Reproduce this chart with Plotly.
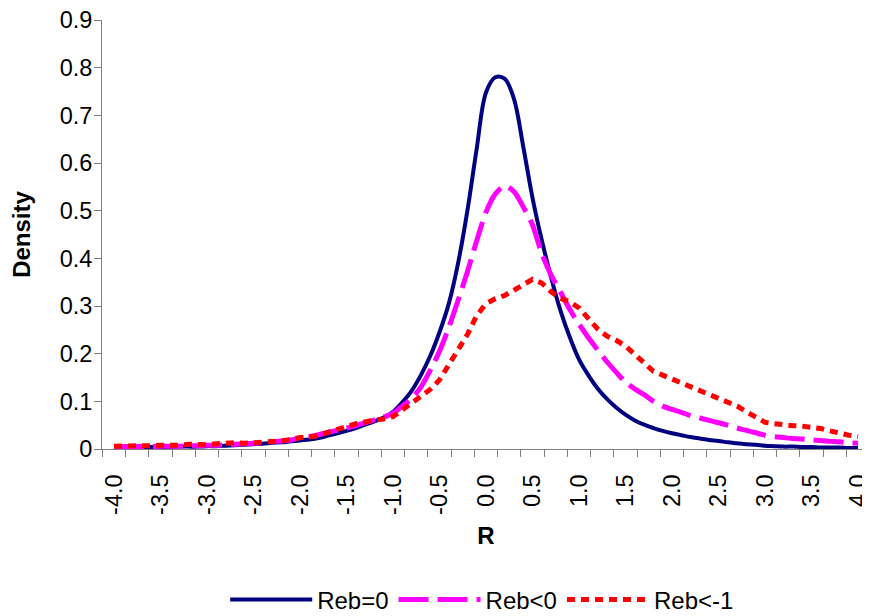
import plotly.graph_objects as go

# R values (x categories)
r_values = [round(-4.0 + 0.1 * i, 1) for i in range(81)]

reb_eq0 = [
    0.003, 0.003, 0.003, 0.003, 0.004, 0.004, 0.004, 0.005, 0.005, 0.005,  # -4.0 .. -3.1
    0.006, 0.006, 0.007, 0.008, 0.009, 0.010, 0.011, 0.013, 0.014, 0.016,  # -3.0 .. -2.1
    0.018, 0.020, 0.023, 0.028, 0.033, 0.038, 0.044, 0.051, 0.058, 0.066,  # -2.0 .. -1.1
    0.078, 0.098, 0.122, 0.155, 0.195, 0.245, 0.305, 0.390, 0.500, 0.630,  # -1.0 .. -0.1
    0.748, 0.780, 0.777, 0.735, 0.635, 0.527, 0.438, 0.360, 0.291, 0.235,  #  0.0 .. 0.9
    0.188, 0.155, 0.127, 0.105, 0.087, 0.072, 0.060, 0.051, 0.044, 0.038,  #  1.0 .. 1.9
    0.033, 0.029, 0.025, 0.022, 0.019, 0.017, 0.014, 0.012, 0.010, 0.009,  #  2.0 .. 2.9
    0.007, 0.006, 0.005, 0.005, 0.004, 0.004, 0.003, 0.003, 0.003, 0.002,  #  3.0 .. 3.9
    0.002,                                                                 #  4.0
]

reb_lt0 = [
    0.005, 0.005, 0.005, 0.005, 0.005, 0.006, 0.006, 0.006, 0.007, 0.007,
    0.008, 0.008, 0.009, 0.010, 0.011, 0.012, 0.013, 0.015, 0.017, 0.019,
    0.023, 0.026, 0.030, 0.035, 0.039, 0.044, 0.049, 0.055, 0.061, 0.067,
    0.075, 0.090, 0.106, 0.130, 0.165, 0.205, 0.255, 0.312, 0.372, 0.437,
    0.497, 0.535, 0.552, 0.540, 0.508, 0.470, 0.410, 0.365, 0.330, 0.293,
    0.262, 0.234, 0.208, 0.183, 0.161, 0.140, 0.126, 0.114, 0.100, 0.090,
    0.083, 0.077, 0.070, 0.065, 0.060, 0.055, 0.050, 0.044, 0.039, 0.034,
    0.029, 0.026, 0.024, 0.022, 0.021, 0.019, 0.018, 0.016, 0.015, 0.013,
    0.012,
]

reb_ltm1 = [
    0.006, 0.006, 0.005, 0.006, 0.007, 0.008, 0.007, 0.008, 0.010, 0.009,
    0.009, 0.011, 0.013, 0.013, 0.012, 0.013, 0.014, 0.016, 0.017, 0.020,
    0.024, 0.025, 0.028, 0.035, 0.040, 0.047, 0.053, 0.058, 0.061, 0.063,
    0.068, 0.082, 0.097, 0.111, 0.125, 0.145, 0.178, 0.210, 0.240, 0.280,
    0.305, 0.315, 0.322, 0.333, 0.345, 0.356, 0.348, 0.330, 0.316, 0.309,
    0.296, 0.275, 0.252, 0.237, 0.228, 0.216, 0.198, 0.178, 0.163, 0.155,
    0.147, 0.140, 0.131, 0.122, 0.114, 0.106, 0.098, 0.090, 0.078, 0.066,
    0.056, 0.053, 0.050, 0.049, 0.048, 0.046, 0.043, 0.038, 0.033, 0.029,
    0.026,
]

x_tick_vals = [round(-4.0 + 0.5 * i, 1) for i in range(17)]
x_tick_text = [f"{v:.1f}" for v in x_tick_vals]
y_tick_vals = [round(0.1 * i, 1) for i in range(10)]
y_tick_text = ["0"] + [f"{v:.1f}" for v in y_tick_vals[1:]]

FONT = "Liberation Sans, Arial, sans-serif"
AXIS_COLOR = "#808080"

fig = go.Figure()
fig.add_trace(go.Scatter(
    x=r_values, y=reb_eq0, mode="lines", name="Reb=0",
    line=dict(color="#000080", width=4, shape="spline", smoothing=1.0),
))
fig.add_trace(go.Scatter(
    x=r_values, y=reb_lt0, mode="lines", name="Reb<0",
    line=dict(color="#FF00FF", width=5, dash="30px,9px", shape="spline", smoothing=0.8),
))
fig.add_trace(go.Scatter(
    x=r_values, y=reb_ltm1, mode="lines", name="Reb<-1",
    line=dict(color="#FF0000", width=5, dash="8px,6px"),
))

fig.update_layout(
    width=862, height=640,
    margin=dict(l=94, r=0, t=12, b=199),
    paper_bgcolor="white", plot_bgcolor="white",
    font=dict(family=FONT, size=24, color="black"),
    showlegend=True,
    legend=dict(
        orientation="h", x=0.1604, xanchor="left", y=-0.352, yanchor="middle",
        font=dict(size=24), itemwidth=82, bgcolor="rgba(0,0,0,0)",
        tracegroupgap=0,
    ),
    xaxis=dict(
        range=[-4.129, 4.129],
        tickmode="array", tickvals=x_tick_vals, ticktext=x_tick_text,
        tickangle=-90, ticks="outside", ticklen=7, tickcolor="rgba(0,0,0,0)",
        tickfont=dict(size=23.5), ticklabelstandoff=8, ticklabeloverflow="allow",
        showline=True, linecolor=AXIS_COLOR, linewidth=1,
        showgrid=False, zeroline=False,
        minor=dict(tick0=-4.125, dtick=0.25, ticks="outside", ticklen=7,
                   tickcolor=AXIS_COLOR, showgrid=False),
        title=dict(text="<b>R</b>", font=dict(size=24), standoff=13),
    ),
    yaxis=dict(
        range=[0, 0.9],
        tickmode="array", tickvals=y_tick_vals, ticktext=y_tick_text,
        ticks="outside", ticklen=7, tickcolor=AXIS_COLOR,
        tickfont=dict(size=23.5), ticklabelstandoff=-3, ticklabeloverflow="allow",
        showline=True, linecolor=AXIS_COLOR, linewidth=1,
        showgrid=False, zeroline=False,
        title=dict(text="<b>Density</b>", font=dict(size=24), standoff=24),
    ),
)

fig.write_html("out.html")
